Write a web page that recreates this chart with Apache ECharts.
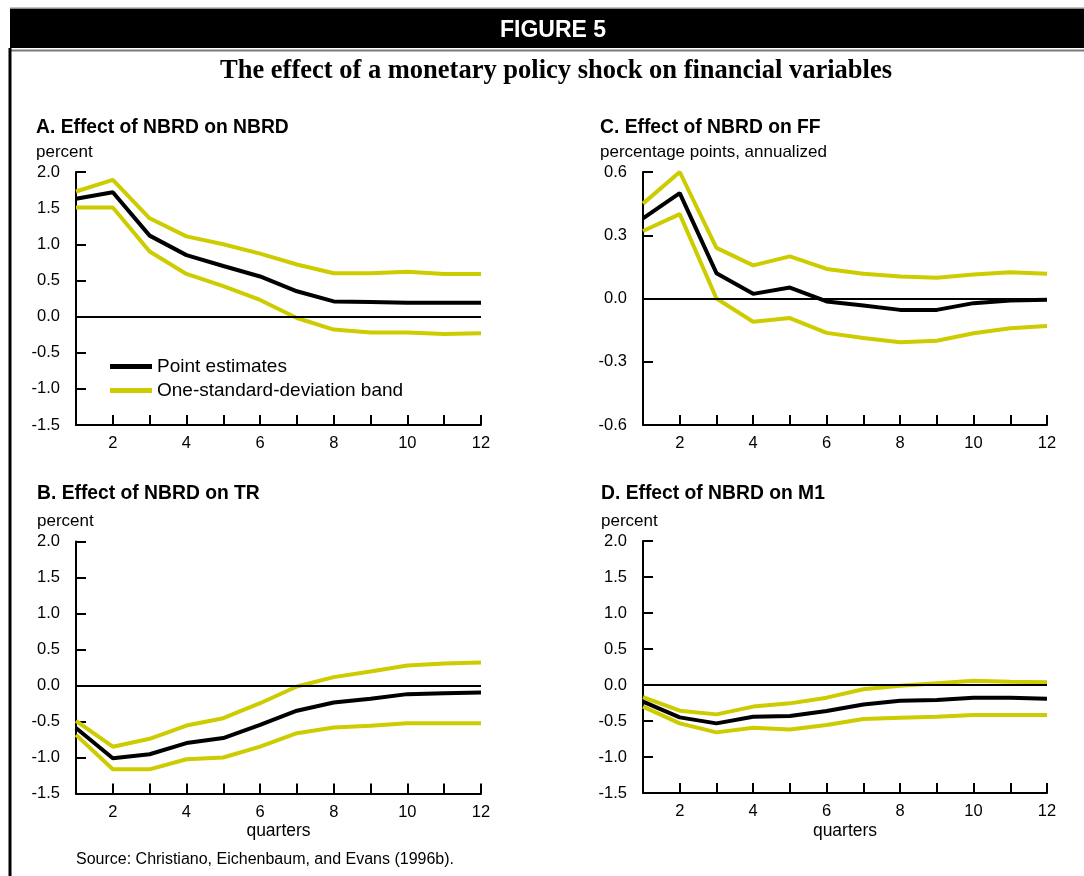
<!DOCTYPE html>
<html>
<head>
<meta charset="utf-8">
<script src="https://cdn.jsdelivr.net/npm/echarts@6/dist/echarts.min.js"></script>
<style>
html,body{margin:0;padding:0;background:#fff;}
#chart{width:1084px;height:876px;}
</style>
</head>
<body>
<div id="chart"></div>
<script>
// ---- Data ----
const quarters = [1,2,3,4,5,6,7,8,9,10,11,12];
const xTickLabels = ['2','4','6','8','10','12'];

// Panel A: Effect of NBRD on NBRD (percent)
const nbrdPoint = [1.63, 1.72, 1.12, 0.85, 0.70, 0.555, 0.35, 0.21, 0.20, 0.19, 0.19, 0.19];
const nbrdUpper = [1.73, 1.89, 1.36, 1.11, 1.00, 0.87, 0.72, 0.60, 0.60, 0.62, 0.59, 0.59];
const nbrdLower = [1.51, 1.51, 0.90, 0.59, 0.42, 0.23, -0.02, -0.18, -0.22, -0.22, -0.24, -0.23];

// Panel C: Effect of NBRD on FF (percentage points, annualized)
const ffPoint = [0.38, 0.50, 0.12, 0.022, 0.052, -0.014, -0.033, -0.054, -0.054, -0.022, -0.01, -0.006];
const ffUpper = [0.45, 0.60, 0.24, 0.157, 0.20, 0.14, 0.117, 0.104, 0.098, 0.114, 0.125, 0.117];
const ffLower = [0.32, 0.40, 0.0, -0.11, -0.093, -0.163, -0.187, -0.207, -0.20, -0.165, -0.141, -0.131];

// Panel B: Effect of NBRD on TR (percent)
const trPoint = [-0.59, -1.01, -0.955, -0.80, -0.73, -0.547, -0.35, -0.236, -0.185, -0.12, -0.107, -0.097];
const trUpper = [-0.49, -0.85, -0.74, -0.556, -0.454, -0.246, -0.014, 0.116, 0.195, 0.278, 0.306, 0.32];
const trLower = [-0.686, -1.164, -1.164, -1.025, -1.0, -0.848, -0.663, -0.584, -0.56, -0.524, -0.524, -0.524];

// Panel D: Effect of NBRD on M1 (percent)
const m1Point = [-0.23, -0.45, -0.533, -0.44, -0.43, -0.36, -0.27, -0.22, -0.21, -0.176, -0.176, -0.19];
const m1Upper = [-0.17, -0.357, -0.408, -0.30, -0.255, -0.176, -0.06, -0.01, 0.023, 0.06, 0.046, 0.037];
const m1Lower = [-0.30, -0.533, -0.658, -0.593, -0.617, -0.556, -0.473, -0.454, -0.44, -0.417, -0.417, -0.417];

const percentTicks = {min: -1.5, max: 2.0, interval: 0.5};
const ffTicks = {min: -0.6, max: 0.6, interval: 0.3};

const panelTitles = ['A. Effect of NBRD on NBRD', 'C. Effect of NBRD on FF', 'B. Effect of NBRD on TR', 'D. Effect of NBRD on M1'];
const unitLabels = ['percent', 'percentage points, annualized', 'percent', 'percent'];
const legendNames = ['Point estimates', 'One-standard-deviation band'];

// ---- Styling ----
const SANS = '"Liberation Sans", Arial, Helvetica, sans-serif';
const SERIF = '"Liberation Serif", "Times New Roman", serif';
const YELLOW = '#cccc00';
const BLACK = '#000000';

const grids = [
  {left: 76, top: 172, width: 405, height: 253},
  {left: 643, top: 172, width: 404, height: 253},
  {left: 76, top: 541.5, width: 405, height: 252},
  {left: 643, top: 541, width: 404, height: 252}
];
const yRanges = [percentTicks, ffTicks, percentTicks, percentTicks];
const panelData = [
  [nbrdPoint, nbrdUpper, nbrdLower],
  [ffPoint, ffUpper, ffLower],
  [trPoint, trUpper, trLower],
  [m1Point, m1Upper, m1Lower]
];
const showQuarters = [false, false, true, true];

const toPairs = arr => quarters.map((q, i) => [q, arr[i]]);

const xAxes = grids.map((g, i) => ({
  type: 'value', gridIndex: i, min: 1, max: 12, interval: 1,
  name: showQuarters[i] ? 'quarters' : '',
  nameLocation: 'middle', nameGap: 29,
  nameTextStyle: {fontFamily: SANS, fontSize: 17.5, color: BLACK},
  axisLine: {onZero: false, lineStyle: {color: BLACK, width: 2}},
  axisTick: {inside: true, length: 10, lineStyle: {color: BLACK, width: 2}},
  axisLabel: {
    margin: 10, color: BLACK, fontFamily: SANS, fontSize: 16.5,
    formatter: v => (xTickLabels.indexOf(String(v)) >= 0 ? String(v) : '')
  },
  splitLine: {show: false}
}));

const yAxes = grids.map((g, i) => ({
  type: 'value', gridIndex: i,
  min: yRanges[i].min, max: yRanges[i].max, interval: yRanges[i].interval,
  axisLine: {show: true, onZero: false, lineStyle: {color: BLACK, width: 2}},
  axisTick: {show: true, inside: true, length: 10, lineStyle: {color: BLACK, width: 2}},
  axisLabel: {margin: 16, color: BLACK, fontFamily: SANS, fontSize: 16.5, formatter: v => v.toFixed(1)},
  splitLine: {show: false}
}));

const series = [];
panelData.forEach((d, i) => {
  [d[1], d[2]].forEach(arr => {
    series.push({
      type: 'line', name: legendNames[1], xAxisIndex: i, yAxisIndex: i,
      data: toPairs(arr), symbol: 'none', color: YELLOW,
      lineStyle: {color: YELLOW, width: 4}, z: 3, silent: true
    });
  });
  series.push({
    type: 'line', name: legendNames[0], xAxisIndex: i, yAxisIndex: i,
    data: toPairs(d[0]), symbol: 'none', color: BLACK,
    lineStyle: {color: BLACK, width: 4}, z: 4, silent: true,
    markLine: {
      silent: true, symbol: ['none', 'none'], label: {show: false},
      lineStyle: {color: BLACK, width: 2, type: 'solid'},
      data: [{yAxis: 0}], animation: false
    }
  });
});

const graphic = [
  {type: 'rect', shape: {x: 10, y: 7.5, width: 1074, height: 1.5}, style: {fill: '#8a8a8a'}},
  {type: 'rect', shape: {x: 10, y: 9, width: 1074, height: 39}, style: {fill: '#000'}},
  {type: 'rect', shape: {x: 10, y: 49.5, width: 1074, height: 2}, style: {fill: '#7a7a7a'}},
  {type: 'rect', shape: {x: 8.5, y: 48, width: 3, height: 830}, style: {fill: '#000'}},
  {type: 'text', x: 553, y: 31, style: {text: 'FIGURE 5', fill: '#fff', font: 'bold 23px ' + SANS, textAlign: 'center', textVerticalAlign: 'middle'}},
  {type: 'text', x: 556, y: 71.5, style: {text: 'The effect of a monetary policy shock on financial variables', fill: '#000', font: 'bold 26.5px ' + SERIF, textAlign: 'center', textVerticalAlign: 'middle'}},
  {type: 'text', x: 76, y: 860, style: {text: 'Source: Christiano, Eichenbaum, and Evans (1996b).', fill: '#000', font: '16px ' + SANS, textAlign: 'left', textVerticalAlign: 'middle'}}
];
const titlePos = [[36, 128, 152.5], [600, 128, 152.5], [37, 494, 521.5], [601, 494, 521.5]];
panelTitles.forEach((t, i) => {
  graphic.push({type: 'text', x: titlePos[i][0], y: titlePos[i][1], style: {text: t, fill: '#000', font: 'bold 19.3px ' + SANS, textAlign: 'left', textVerticalAlign: 'middle'}});
  graphic.push({type: 'text', x: titlePos[i][0], y: titlePos[i][2], style: {text: unitLabels[i], fill: '#000', font: '17px ' + SANS, textAlign: 'left', textVerticalAlign: 'middle'}});
});

const option = {
  animation: false,
  backgroundColor: '#fff',
  grid: grids.map(g => Object.assign({containLabel: false}, g)),
  xAxis: xAxes,
  yAxis: yAxes,
  legend: {
    data: legendNames, orient: 'vertical', left: 110, top: 357, padding: 0,
    itemWidth: 42, itemHeight: 5, icon: 'rect', itemGap: 5, selectedMode: false,
    textStyle: {fontFamily: SANS, fontSize: 19, color: BLACK}
  },
  series: series,
  graphic: graphic
};

const chart = echarts.init(document.getElementById('chart'), null, {renderer: 'canvas'});
chart.setOption(option);
</script>
</body>
</html>
